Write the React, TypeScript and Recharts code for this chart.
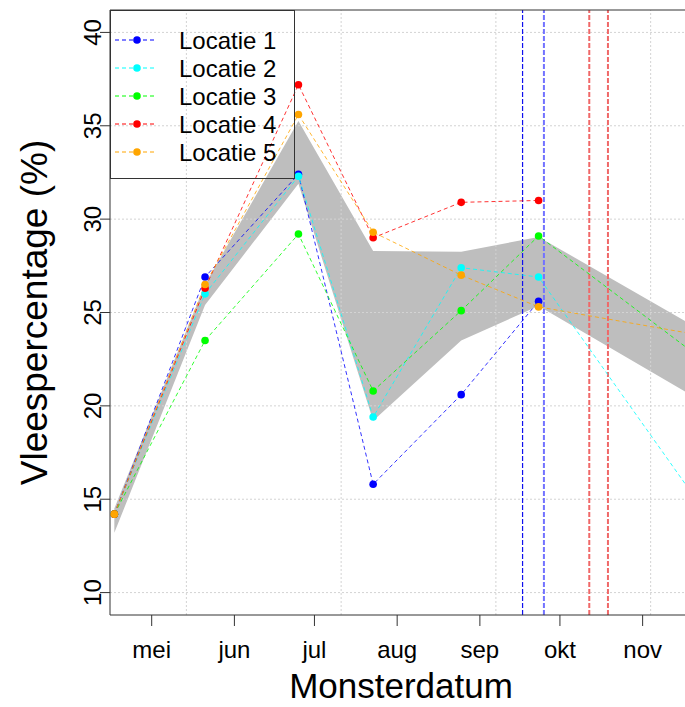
import React from "react";
import {
  Area,
  ComposedChart,
  Label,
  Legend,
  Line,
  ReferenceLine,
  XAxis,
  YAxis,
} from "recharts";

const FONT = "'Liberation Sans', Arial, sans-serif";

// sample dates (the last one lies past the right edge of the plot)
const dates = [
  "2015-04-17",
  "2015-05-21",
  "2015-06-25",
  "2015-07-23",
  "2015-08-25",
  "2015-09-23",
  "2015-11-26",
];

const loc1 = [14.2, 26.9, 32.4, 15.8, 20.6, 25.6, null];
const loc2 = [14.2, 26.0, 32.3, 19.4, 27.4, 26.9, 14.0];
const loc3 = [14.2, 23.5, 29.2, 20.8, 25.1, 29.1, 22.2];
const loc4 = [14.2, 26.3, 37.2, 29.0, 30.9, 31.0, null];
const loc5 = [14.2, 26.5, 35.6, 29.3, 27.0, 25.3, 23.7];

// grey band
const bandLow = [13.2, 25.4, 31.9, 19.2, 23.5, 25.35, 20.0];
const bandHigh = [14.5, 26.5, 35.25, 28.3, 28.25, 29.05, 23.8];

const monthTicks = [
  "2015-05-01",
  "2015-06-01",
  "2015-07-01",
  "2015-08-01",
  "2015-09-01",
  "2015-10-01",
  "2015-11-01",
];
const monthLabels = ["mei", "jun", "jul", "aug", "sep", "okt", "nov"];

const yTicks = [10, 15, 20, 25, 30, 35, 40];
const gridDates = ["2015-05-14", "2015-07-11", "2015-09-07", "2015-11-04"];

const markerDates = ["2015-09-17", "2015-09-25", "2015-10-12", "2015-10-19"];
const markerColors = ["#1010ee", "#7272ff", "#f06868", "#f06868"];
const markerWidths = [1.2, 2, 2, 2];

const xRange = ["2015-04-15T09:00:00Z", "2015-11-19T12:00:00Z"];
const yRange = [8.8, 41.2];

const series = [
  { key: "loc1", name: "Locatie 1", color: "#0000ff", values: loc1 },
  { key: "loc2", name: "Locatie 2", color: "#00ffff", values: loc2 },
  { key: "loc3", name: "Locatie 3", color: "#00ff00", values: loc3 },
  { key: "loc4", name: "Locatie 4", color: "#ff0000", values: loc4 },
  { key: "loc5", name: "Locatie 5", color: "#ffa500", values: loc5 },
];

const toT = (d: string) => Date.parse(d);

const data = dates.map((d, i) => {
  const row: any = { t: toT(d), band: [bandLow[i], bandHigh[i]] };
  series.forEach((s) => (row[s.key] = s.values[i]));
  return row;
});

const tickTimes = monthTicks.map(toT);

const XTick = (props: any) => {
  const { x, y, payload } = props;
  const idx = tickTimes.indexOf(payload.value);
  return (
    <text x={x} y={y + 30} textAnchor="middle" fontSize={24} fontFamily={FONT} fill="#000">
      {monthLabels[idx]}
    </text>
  );
};

const YTick = (props: any) => {
  const { x, y, payload } = props;
  const bx = x + 3;
  return (
    <text
      x={bx}
      y={y}
      transform={`rotate(-90 ${bx} ${y})`}
      textAnchor="middle"
      fontSize={24}
      fontFamily={FONT}
      fill="#000"
    >
      {payload.value}
    </text>
  );
};

const renderLegend = () => (
  <svg width={185} height={169} style={{ display: "block" }}>
    <rect x={0.5} y={0.5} width={184} height={168} fill="none" stroke="#333" />
    {series.map((s, i) => {
      const y = 30 + i * 28;
      return (
        <g key={s.key}>
          <line x1={5} x2={47} y1={y} y2={y} stroke={s.color} strokeDasharray="4 3" />
          <circle cx={27} cy={y} r={3.8} fill={s.color} />
          <text x={69} y={y + 8.5} fontSize={24} fontFamily={FONT} fill="#000">
            {s.name}
          </text>
        </g>
      );
    })}
  </svg>
);

export default function App() {
  return (
    <div
      style={{
        position: "absolute",
        left: 0,
        top: 0,
        width: 685,
        height: 707,
        overflow: "hidden",
        background: "#fff",
      }}
    >
      <ComposedChart
        width={720}
        height={707}
        data={data}
        margin={{ top: 10, right: 28, bottom: 0, left: 0 }}
      >
        <XAxis
          dataKey="t"
          type="number"
          scale="linear"
          domain={xRange.map(toT)}
          allowDataOverflow
          ticks={tickTimes}
          tick={<XTick />}
          tickSize={11}
          height={92}
          stroke="#333"
          interval={0}
        >
          <Label
            content={({ viewBox }: any) => (
              <text
                x={viewBox.x + viewBox.width / 2}
                y={viewBox.y + 83}
                textAnchor="middle"
                fontSize={35}
                fontFamily={FONT}
                fill="#000"
              >
                Monsterdatum
              </text>
            )}
          />
        </XAxis>
        <YAxis
          type="number"
          domain={yRange}
          allowDataOverflow
          ticks={yTicks}
          tick={<YTick />}
          tickSize={10}
          width={110}
          stroke="#333"
          interval={0}
        >
          <Label
            content={({ viewBox }: any) => {
              const cx = viewBox.x + 47;
              const cy = viewBox.y + viewBox.height / 2;
              return (
                <text
                  x={cx}
                  y={cy}
                  transform={`rotate(-90 ${cx} ${cy})`}
                  textAnchor="middle"
                  fontSize={37}
                  fontFamily={FONT}
                  fill="#000"
                >
                  Vleespercentage (%)
                </text>
              );
            }}
          />
        </YAxis>

        <Area
          dataKey="band"
          type="linear"
          fill="#bebebe"
          fillOpacity={1}
          stroke="none"
          isAnimationActive={false}
          activeDot={false}
        />

        {yTicks.map((v) => (
          <ReferenceLine key={`hy${v}`} y={v} stroke="#d3d3d3" strokeDasharray="2 2" />
        ))}
        {gridDates.map((d) => (
          <ReferenceLine key={`gx${d}`} x={toT(d)} stroke="#d3d3d3" strokeDasharray="2 2" />
        ))}
        {markerDates.map((d, i) => (
          <ReferenceLine
            key={`m${d}`}
            x={toT(d)}
            stroke={markerColors[i]}
            strokeWidth={markerWidths[i]}
            strokeDasharray="5 2"
          />
        ))}
        <ReferenceLine y={yRange[1]} stroke="#333" />

        {series.map((s) => (
          <Line
            key={s.key}
            dataKey={s.key}
            name={s.name}
            type="linear"
            stroke={s.color}
            strokeOpacity={0.8}
            strokeWidth={1}
            strokeDasharray="4 3"
            dot={{ r: 3.8, fill: s.color, stroke: s.color, strokeWidth: 0 }}
            activeDot={false}
            isAnimationActive={false}
          />
        ))}

        <Legend
          layout="vertical"
          align="center"
          verticalAlign="middle"
          content={renderLegend}
          wrapperStyle={{ left: 110, top: 10, width: 185, height: 169 }}
        />
      </ComposedChart>
    </div>
  );
}
